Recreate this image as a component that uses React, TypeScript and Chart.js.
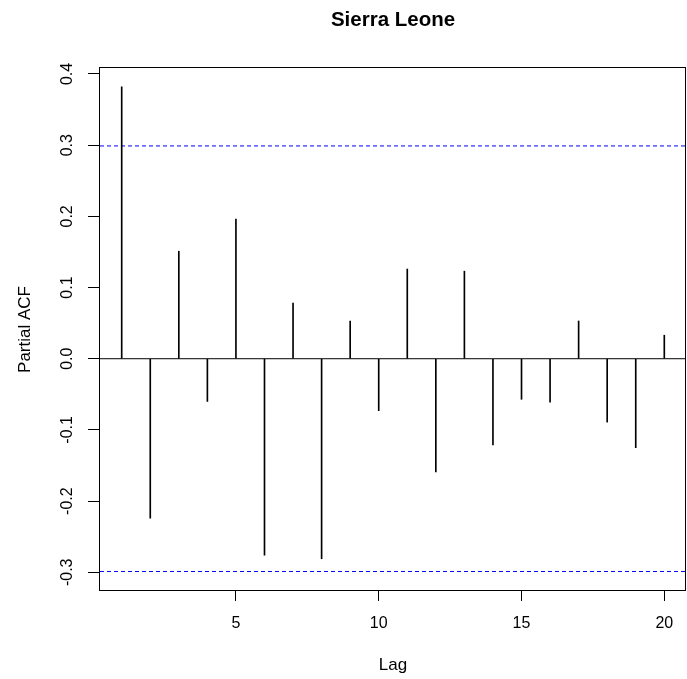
import React, { useEffect, useRef } from "react";
import { Chart, registerables } from "chart.js";

Chart.register(...registerables);

// ---- data ----
const lags = [1, 2, 3, 4, 5, 6, 7, 8, 9, 10, 11, 12, 13, 14, 15, 16, 17, 18, 19, 20];
const pacfValues = [
  0.382, -0.224, 0.151, -0.060, 0.196, -0.276, 0.078, -0.281, 0.053, -0.073,
  0.126, -0.159, 0.123, -0.121, -0.057, -0.061, 0.053, -0.089, -0.125, 0.033,
];
const ciLimit = 0.2989;
const xTickValues = [5, 10, 15, 20];
const yTickValues = [-0.3, -0.2, -0.1, 0.0, 0.1, 0.2, 0.3, 0.4];
const xLimits = [0.24, 20.76];
const yLimits = [-0.3263, 0.4084];
const chartTitle = "Sierra Leone";
const xLabel = "Lag";
const yLabel = "Partial ACF";

const FAMILY = "'Liberation Sans', Arial, Helvetica, sans-serif";

export default function App() {
  const ref = useRef<HTMLCanvasElement | null>(null);

  useEffect(() => {
    if (!ref.current) return;

    const rPlugin = {
      id: "rDecor",
      afterDraw(chart: any) {
        const { ctx, chartArea: a } = chart;
        const yScale = chart.scales.y;
        ctx.save();
        ctx.setLineDash([]);
        ctx.strokeStyle = "#000";
        ctx.lineWidth = 1;
        ctx.strokeRect(a.left - 0.5, a.top - 0.5, a.right - a.left, a.bottom - a.top);
        ctx.fillStyle = "#000";
        ctx.font = `16px ${FAMILY}`;
        ctx.textAlign = "center";
        ctx.textBaseline = "middle";
        for (const v of yTickValues) {
          const py = yScale.getPixelForValue(v);
          ctx.save();
          ctx.translate(68, py);
          ctx.rotate(-Math.PI / 2);
          ctx.fillText(v.toFixed(1), 0, 0);
          ctx.restore();
        }
        ctx.font = `bold 20.5px ${FAMILY}`;
        ctx.fillText(chartTitle, (a.left + a.right) / 2, 20);
        ctx.restore();
      },
    };

    const chart = new Chart(ref.current, {
      type: "bar",
      data: {
        datasets: [
          {
            type: "bar",
            label: "pacf",
            data: lags.map((l, i) => ({ x: l, y: pacfValues[i] })),
            backgroundColor: "#000",
            borderColor: "#000",
            borderWidth: 0,
            barThickness: 1,
          } as any,
          {
            type: "line",
            label: "zero",
            data: [
              { x: xLimits[0], y: 0 },
              { x: xLimits[1], y: 0 },
            ],
            borderColor: "#000",
            backgroundColor: "#000",
            borderWidth: 1,
            pointRadius: 0,
            fill: false,
          } as any,
          {
            type: "line",
            label: "ciUpper",
            data: [
              { x: xLimits[0], y: ciLimit },
              { x: xLimits[1], y: ciLimit },
            ],
            borderColor: "#0000ff",
            backgroundColor: "#0000ff",
            borderWidth: 1,
            borderDash: [4, 3],
            pointRadius: 0,
            fill: false,
          } as any,
          {
            type: "line",
            label: "ciLower",
            data: [
              { x: xLimits[0], y: -ciLimit },
              { x: xLimits[1], y: -ciLimit },
            ],
            borderColor: "#0000ff",
            backgroundColor: "#0000ff",
            borderWidth: 1,
            borderDash: [4, 3],
            pointRadius: 0,
            fill: false,
          } as any,
        ],
      },
      options: {
        animation: false,
        responsive: false,
        layout: { padding: { top: 68, right: 1, left: 0, bottom: 0 } },
        plugins: {
          legend: { display: false },
          tooltip: { enabled: false },
          title: { display: false },
        },
        scales: {
          x: {
            type: "linear",
            min: xLimits[0],
            max: xLimits[1],
            offset: false,
            afterBuildTicks: (s: any) => {
              s.ticks = xTickValues.map((v) => ({ value: v }));
            },
            afterFit: (s: any) => {
              s.height = 88;
            },
            ticks: {
              color: "#000",
              font: { family: FAMILY, size: 16 },
              padding: 13,
              maxRotation: 0,
              autoSkip: false,
              callback: (v: any) => String(v),
            },
            grid: {
              display: true,
              drawOnChartArea: false,
              drawTicks: true,
              tickLength: 10,
              color: "#000",
              lineWidth: 1,
              offset: false,
            },
            border: { display: false },
            title: {
              display: true,
              text: xLabel,
              color: "#000",
              font: { family: FAMILY, size: 17 },
              padding: { top: 0, bottom: 3 },
            },
          },
          y: {
            type: "linear",
            min: yLimits[0],
            max: yLimits[1],
            afterBuildTicks: (s: any) => {
              s.ticks = yTickValues.map((v) => ({ value: v }));
            },
            afterFit: (s: any) => {
              s.width = 100;
            },
            ticks: { display: false },
            grid: {
              display: true,
              drawOnChartArea: false,
              drawTicks: true,
              tickLength: 12,
              color: "#000",
              lineWidth: 1,
            },
            border: { display: false },
            title: {
              display: true,
              text: yLabel,
              color: "#000",
              font: { family: FAMILY, size: 17 },
              padding: { top: 15, bottom: 0 },
            },
          },
        },
      },
      plugins: [rPlugin],
    } as any);

    return () => chart.destroy();
  }, []);

  return (
    <canvas
      ref={ref}
      width={687}
      height={679}
      style={{ position: "fixed", left: 0, top: 0, display: "block" }}
    />
  );
}
